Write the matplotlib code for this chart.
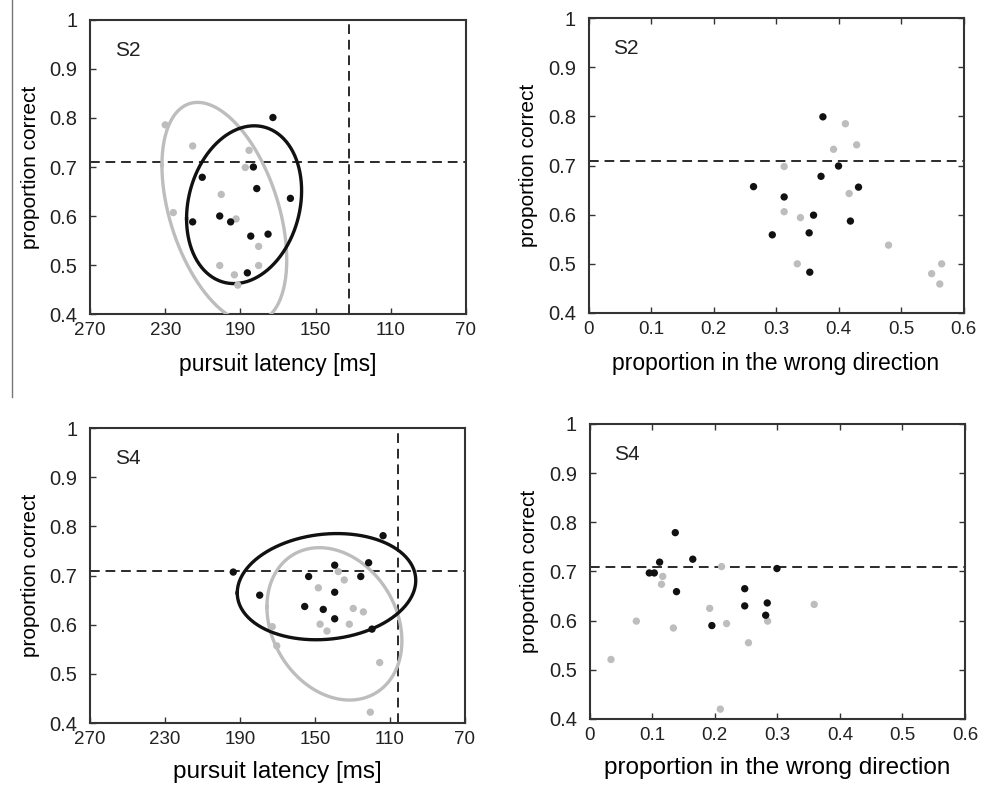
# Scatter plots: proportion correct vs pursuit latency / proportion in wrong direction
import numpy as np
import matplotlib.pyplot as plt
from matplotlib.lines import Line2D

plt.rcParams['font.family'] = ['Liberation Sans', 'DejaVu Sans']

# ---- data ----
# S2, latency panel
s2_black_lat = [172.7, 183.1, 210.3, 181.3, 163.4, 215.4, 201.0, 195.2, 184.5, 175.3, 186.3]
s2_black_pc_lat = [0.801, 0.700, 0.679, 0.656, 0.636, 0.588, 0.600, 0.588, 0.559, 0.563, 0.484]
s2_gray_lat = [230.0, 215.4, 185.4, 187.4, 200.2, 225.7, 192.3, 180.3, 201.0, 180.3, 193.2, 191.4]
s2_gray_pc_lat = [0.786, 0.743, 0.734, 0.699, 0.644, 0.607, 0.594, 0.538, 0.499, 0.499, 0.480, 0.459]

# S2, wrong-direction panel
s2_black_wrong = [0.375, 0.400, 0.372, 0.264, 0.432, 0.313, 0.360, 0.419, 0.294, 0.353, 0.354]
s2_black_pc_wrong = [0.799, 0.699, 0.678, 0.657, 0.656, 0.636, 0.599, 0.587, 0.559, 0.563, 0.483]
s2_gray_wrong = [0.411, 0.429, 0.392, 0.313, 0.417, 0.313, 0.339, 0.480, 0.334, 0.565, 0.549, 0.562]
s2_gray_pc_wrong = [0.785, 0.742, 0.733, 0.698, 0.643, 0.606, 0.594, 0.538, 0.500, 0.500, 0.480, 0.459]

# S4, latency panel
s4_black_lat = [113.7, 121.4, 139.5, 193.6, 153.4, 125.6, 179.5, 139.5, 155.5, 145.6, 139.5, 119.6]
s4_black_pc_lat = [0.781, 0.726, 0.721, 0.707, 0.698, 0.698, 0.660, 0.666, 0.637, 0.631, 0.612, 0.591]
s4_gray_lat = [137.6, 134.4, 148.2, 129.6, 124.2, 147.3, 131.7, 143.6, 172.8, 170.4, 115.5, 120.5]
s4_gray_pc_lat = [0.708, 0.691, 0.675, 0.633, 0.626, 0.601, 0.601, 0.587, 0.596, 0.557, 0.523, 0.422]

# S4, wrong-direction panel
s4_black_wrong = [0.137, 0.112, 0.165, 0.0955, 0.1035, 0.2995, 0.139, 0.248, 0.248, 0.284, 0.2815, 0.1955]
s4_black_pc_wrong = [0.779, 0.719, 0.725, 0.697, 0.697, 0.706, 0.659, 0.665, 0.630, 0.636, 0.611, 0.590]
s4_gray_wrong = [0.211, 0.117, 0.115, 0.192, 0.359, 0.0748, 0.134, 0.219, 0.2846, 0.254, 0.0343, 0.209]
s4_gray_pc_wrong = [0.710, 0.690, 0.674, 0.625, 0.633, 0.599, 0.585, 0.594, 0.599, 0.555, 0.521, 0.420]

# ellipse spread (half-extent in x, half-extent in y, correlation), centred on the group mean
s2_black_ell = [30.6, 0.161, -0.177]
s2_gray_ell = [33.2, 0.225, 0.428]
s4_black_ell = [47.6, 0.108, -0.118]
s4_gray_ell = [36.0, 0.155, 0.223]

# reference lines
pc_threshold = 0.71
s2_latency_ref = 132
s4_latency_ref = 106

y_ticks = [0.4, 0.5, 0.6, 0.7, 0.8, 0.9, 1.0]
y_ticklabels = ['0.4', '0.5', '0.6', '0.7', '0.8', '0.9', '1']
lat_ticks = [270, 230, 190, 150, 110, 70]
wrong_ticks = [0, 0.1, 0.2, 0.3, 0.4, 0.5, 0.6]
wrong_ticklabels = ['0', '0.1', '0.2', '0.3', '0.4', '0.5', '0.6']

BLACK = '#111111'
GRAY = '#bdbdbd'
LINE = '#2a2a2a'

fig = plt.figure(figsize=(9.86, 7.90), dpi=100)
fig.patch.set_facecolor('white')

ax_tl = fig.add_axes([0.0913, 0.6025, 0.3813, 0.3722])
ax_tr = fig.add_axes([0.5969, 0.6038, 0.3803, 0.3734])
ax_bl = fig.add_axes([0.0913, 0.0848, 0.3803, 0.3734])
ax_br = fig.add_axes([0.5979, 0.0899, 0.3808, 0.3734])


def draw_ellipse(ax, xs, ys, spread, color):
    # ellipse from centre (mean) and covariance-like spread
    cx, cy = np.mean(xs), np.mean(ys)
    sx, sy, r = spread
    t = np.linspace(0, 2 * np.pi, 300)
    ex = cx + sx * np.cos(t)
    ey = cy + sy * (r * np.cos(t) + np.sqrt(1 - r ** 2) * np.sin(t))
    ax.plot(ex, ey, color=color, lw=2.4, zorder=3)


def style_axes(ax, label, all_sides, xfont):
    ax.set_ylim(0.4, 1.0)
    ax.set_yticks(y_ticks)
    ax.set_yticklabels(y_ticklabels)
    ax.set_ylabel('proportion correct', fontsize=15, labelpad=7)
    ax.xaxis.label.set_size(xfont)
    for sp in ax.spines.values():
        sp.set_color('#333333')
        sp.set_linewidth(1.5)
    ax.tick_params(direction='in', length=4, width=1, color='#333333',
                   labelcolor='#222222', top=all_sides, right=all_sides)
    ax.tick_params(axis='x', labelsize=13.5, pad=6)
    ax.tick_params(axis='y', labelsize=14.5, pad=9)
    ax.text(0.066, 0.878, label, transform=ax.transAxes, fontsize=15,
            ha='left', va='baseline', color='#222222')


def latency_panel(ax, bx, by, gx, gy, bell, gell, lat_ref, label, xfont, xpad):
    ax.set_xlim(270, 70)
    ax.set_xticks(lat_ticks)
    ax.set_xlabel('pursuit latency [ms]', labelpad=xpad)
    draw_ellipse(ax, gx, gy, gell, GRAY)
    ax.scatter(gx, gy, s=28, color=GRAY, edgecolors='none', zorder=4)
    draw_ellipse(ax, bx, by, bell, BLACK)
    ax.scatter(bx, by, s=28, color=BLACK, edgecolors='none', zorder=5)
    ax.axhline(pc_threshold, color=LINE, lw=1.4, ls=(0, (5, 3)), zorder=2)
    ax.axvline(lat_ref, color=LINE, lw=1.4, ls=(0, (5, 3)), zorder=2)
    style_axes(ax, label, False, xfont)


def wrong_panel(ax, bx, by, gx, gy, label, xfont, xpad):
    ax.set_xlim(0, 0.6)
    ax.set_xticks(wrong_ticks)
    ax.set_xticklabels(wrong_ticklabels)
    ax.set_xlabel('proportion in the wrong direction', labelpad=xpad)
    ax.scatter(gx, gy, s=28, color=GRAY, edgecolors='none', zorder=4)
    ax.scatter(bx, by, s=28, color=BLACK, edgecolors='none', zorder=5)
    ax.axhline(pc_threshold, color=LINE, lw=1.4, ls=(0, (5, 3)), zorder=2)
    style_axes(ax, label, True, xfont)


latency_panel(ax_tl, s2_black_lat, s2_black_pc_lat, s2_gray_lat, s2_gray_pc_lat,
              s2_black_ell, s2_gray_ell, s2_latency_ref, 'S2', 16.5, 10)
wrong_panel(ax_tr, s2_black_wrong, s2_black_pc_wrong, s2_gray_wrong, s2_gray_pc_wrong,
            'S2', 16.5, 10)
latency_panel(ax_bl, s4_black_lat, s4_black_pc_lat, s4_gray_lat, s4_gray_pc_lat,
              s4_black_ell, s4_gray_ell, s4_latency_ref, 'S4', 17.5, 9)
wrong_panel(ax_br, s4_black_wrong, s4_black_pc_wrong, s4_gray_wrong, s4_gray_pc_wrong,
            'S4', 17.5, 9)

# thin separator line on the left edge of the top row
fig.add_artist(Line2D([0.012, 0.012], [0.497, 1.0], color='#777777', lw=1.0,
                      transform=fig.transFigure))

fig.savefig('out.png', dpi=100, facecolor='white')
